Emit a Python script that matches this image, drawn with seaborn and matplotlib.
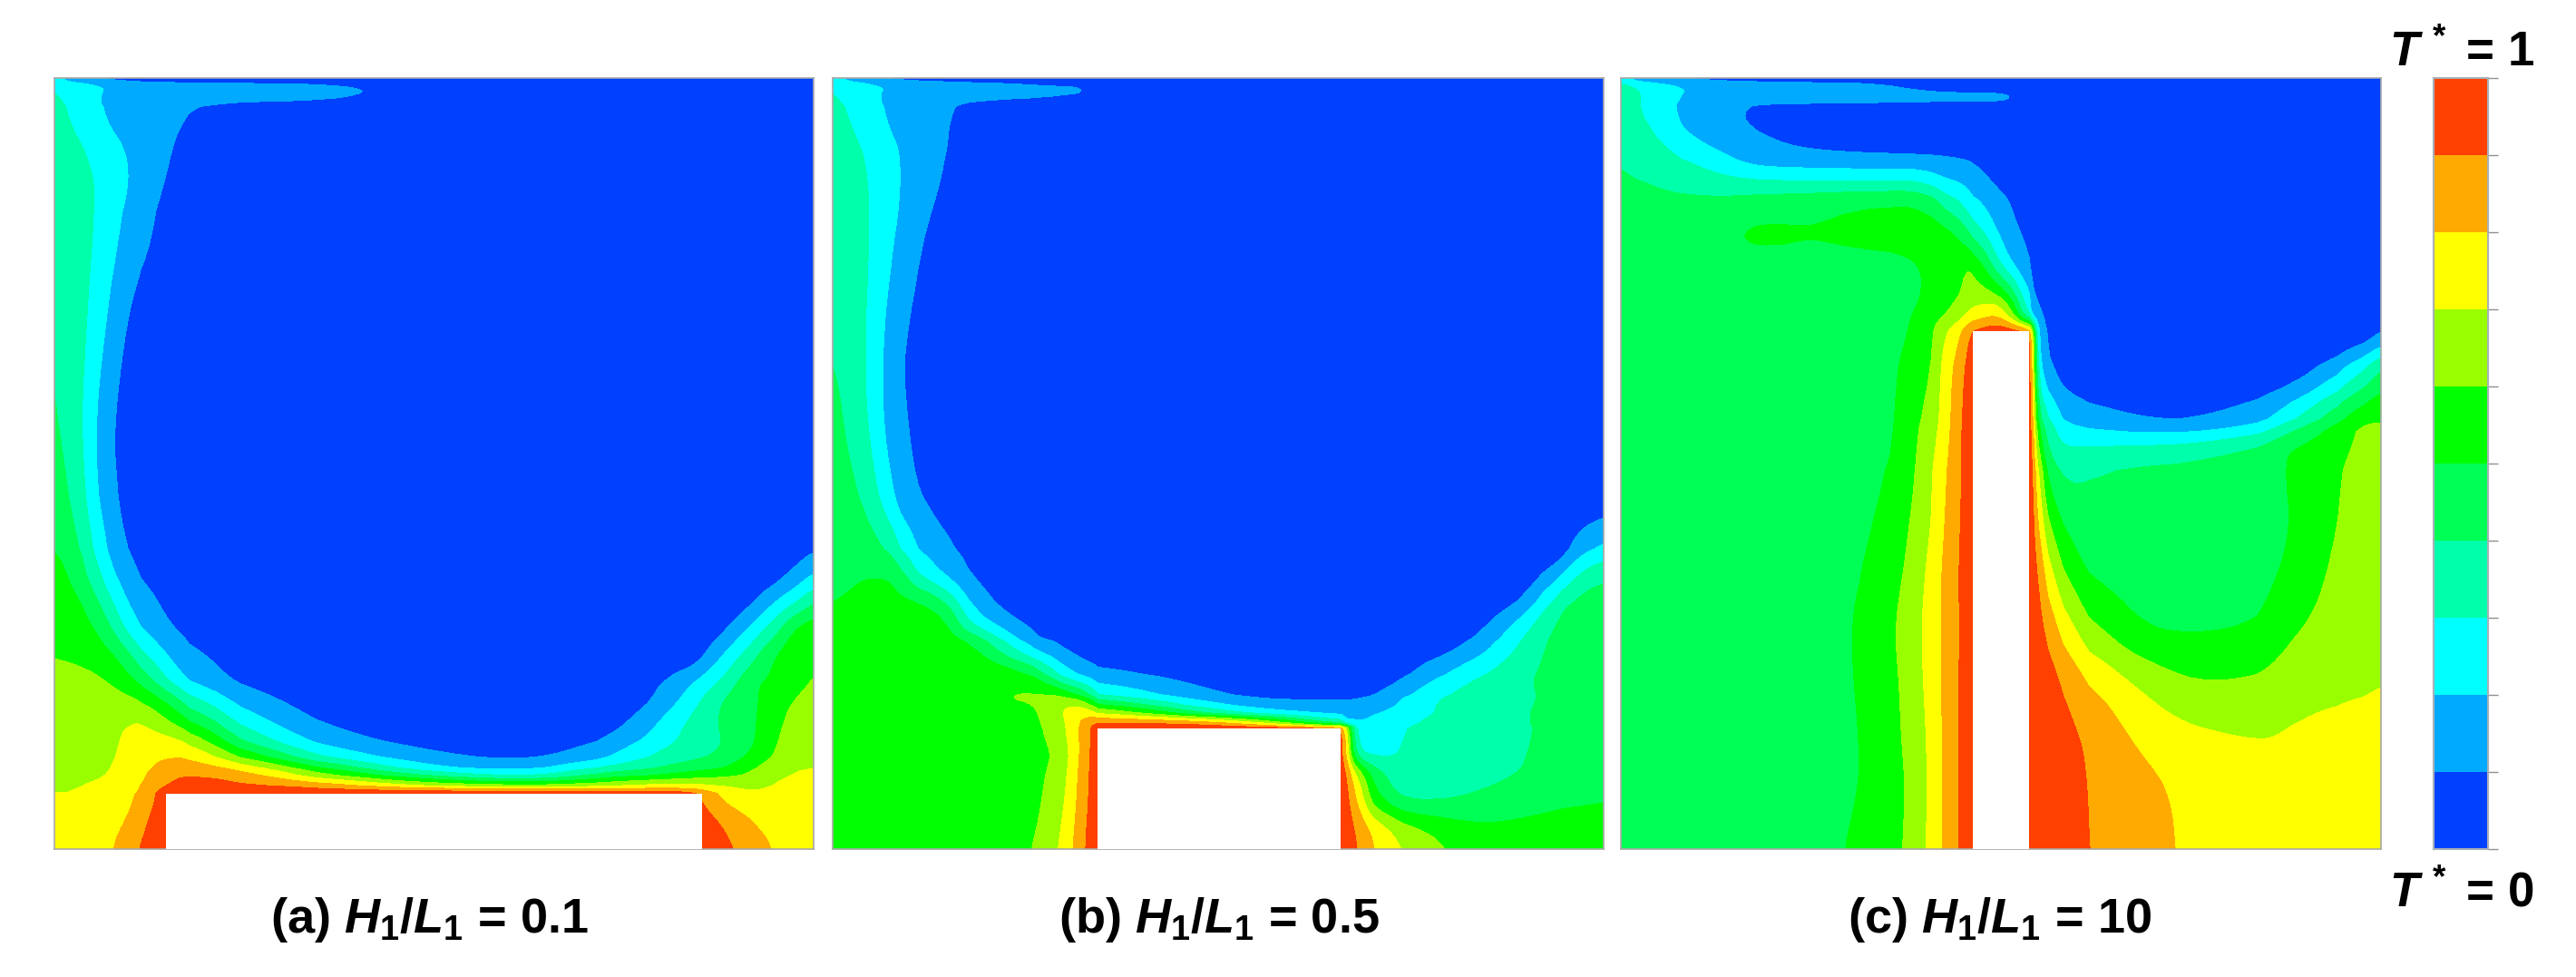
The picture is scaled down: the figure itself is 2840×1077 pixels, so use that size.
# Temperature contours T* for three fin heights

import numpy as np
import seaborn as sns
import matplotlib
matplotlib.use('Agg')
import matplotlib.pyplot as plt
from matplotlib.colors import ListedColormap
from matplotlib.patches import Rectangle

captions = ['(a) ', '(b) ', '(c) ']
ratios = ['0.1', '0.5', '10']
band_colors = ['#0040FF', '#00AAFF', '#00FFFF', '#00FFAA', '#00FF55',
               '#00FF00', '#99FF00', '#FFFF00', '#FFAA00', '#FF4000']
band_values = [9, 8, 7, 6, 5, 4, 3, 2, 1, 0]

# T* x 10 at stations, x and y in the units of the read-off grid
x_a = [35, 60, 90, 115, 145, 175, 205, 255, 300, 400, 550, 750, 950, 1100, 1200, 1280, 1340, 1400, 1450, 1490, 1527]
y_a = [45, 60, 75, 100, 200, 300, 500, 700, 850, 950, 1000, 1050, 1100, 1150, 1200, 1240, 1280, 1320, 1350, 1370, 1385, 1395, 1405, 1412, 1420, 1470, 1527]
fin_a = [255, 1307, 1420]
t_a = [
  [2.5,1.5,1.2,1,.8,.7,.6,.5,.5,.4,.3,.2,.2,.2,.2,.2,.2,.2,.2,.2,.2],
  [3,2.8,2.5,2.2,1.8,1.7,1.6,1.5,1.5,1.4,1.3,.3,.1,.1,.1,.1,.1,.1,.1,.1,.1],
  [3,2.8,2.4,2.1,1.8,1.7,1.6,1.5,1.5,1.5,1.5,.3,.1,.1,.1,.1,.1,.1,.1,.1,.1],
  [3.3,2.9,2.5,2.1,1.7,1.5,1.4,1.2,1,.6,.3,.1,.1,.1,.1,.1,.1,.1,.1,.1,.1],
  [3.8,3.5,3.2,2.9,2.5,2.1,1.7,1,.6,.2,.1,.1,.1,.1,.1,.1,.1,.1,.1,.1,.1],
  [3.9,3.6,3.3,3,2.4,1.9,1.4,.6,.3,.1,.1,.1,.1,.1,.1,.1,.1,.1,.1,.1,.1],
  [3.9,3.5,3.2,2.5,1.7,.9,.5,.2,.1,.1,.1,.1,.1,.1,.1,.1,.1,.1,.1,.1,.1],
  [4.1,3.5,2.9,1.9,1,.5,.3,.1,.1,.1,.1,.1,.1,.1,.1,.1,.1,.1,.1,.1,.1],
  [4.8,4.1,3.2,2.1,1.3,.6,.3,.1,.1,.1,.1,.1,.1,.1,.1,.1,.1,.1,.1,.1,.1],
  [4.95,4.5,3.9,2.8,1.7,1.05,.6,.2,.1,.1,.1,.1,.1,.1,.1,.1,.1,.1,.2,.5,.95],
  [5.6,5,4.2,3.4,2.2,1.5,.9,.4,.2,.1,.1,.1,.1,.1,.1,.1,.1,.2,.6,1.4,2.2],
  [5.8,5.4,4.95,4.2,3.1,2,1.45,.7,.4,.1,.1,.1,.1,.1,.1,.1,.1,.8,2.1,3,4.1],
  [5.9,5.6,5.3,5,4,2.8,1.9,1.1,.7,.2,.1,.1,.1,.1,.1,.2,.6,2.2,3.7,5.3,5.7],
  [5.9,5.85,5.7,5.5,5.15,4.3,3.2,1.85,1.15,.4,.1,.1,.1,.1,.1,.1,1.9,3.6,5.2,5.6,5.8],
  [6.4,6.4,6.3,6.2,5.9,5.4,4.7,2.9,1.8,.7,.2,.1,.1,.2,.6,1.9,3,4.9,5.2,5.6,6.1],
  [6.45,6.5,6.5,6.5,6.4,6.3,6,4.85,3.4,1.5,.4,.1,.1,.1,.9,2.5,4.1,4.8,5.5,6.1,6.5],
  [6.5,6.6,6.7,6.7,6.8,6.95,7.1,6.1,5.1,2.5,.8,.2,.1,.2,1.7,3.3,4.1,4.8,5.7,6.5,6.8],
  [6.6,6.7,6.7,6.75,6.8,7.2,7.4,7.5,7,4,1.6,.6,.2,1.1,2.4,3.4,3.9,4.8,6,6.6,6.9],
  [6.7,6.75,6.8,6.85,6.9,7.3,7.6,8,8,6,3,1.3,.8,1.8,3.2,3.8,4.2,5.3,6.2,6.8,6.95],
  [6.8,6.8,6.85,6.9,6.98,7.4,7.75,8.5,8.6,7.7,5.1,2.1,1.6,3.2,3.9,4.6,4.9,5.9,6.6,6.95,7],
  [6.85,6.85,6.9,6.95,7.05,7.45,7.85,8.8,9,8.6,6.4,4,2.7,4.6,5,5.6,5.8,6.2,6.8,7.1,7.1],
  [6.9,6.9,6.95,7,7.1,7.5,7.9,8.9,9.3,8.85,7.6,5.4,4.4,5.6,6.2,6.4,6.4,6.4,7,7.15,7.1],
  [6.95,6.95,7,7.1,7.2,7.6,8,9.2,9.5,9.2,8.7,7,6.2,6.9,7.4,7.4,7,6.7,7.1,7.2,7.2],
  [6.97,6.98,7.03,7.15,7.25,7.65,8.05,9.5,9.7,9.5,9.2,8.6,8.3,8.2,8.4,8.3,7.3,6.9,7.2,7.25,7.2],
  [7,7,7.1,7.2,7.3,7.7,8.2,9.8,9.9,9.9,9.8,9.9,9.9,9.9,9.9,9.5,7.7,7.1,7.3,7.3,7.3],
  [7.3,7.3,7.4,7.5,7.7,8,8.8,9.9,9.9,9.9,9.9,9.9,9.9,9.9,9.9,9.9,9,8,7.6,7.4,7.3],
  [7.5,7.5,7.6,7.7,7.9,8.7,9.1,9.9,9.9,9.9,9.9,9.9,9.9,9.9,9.9,9.9,9.4,8.6,7.9,7.5,7.4],
]

x_b = [32, 60, 90, 115, 140, 165, 200, 250, 300, 360, 420, 465, 495, 520, 553, 800, 1030, 1060, 1095, 1150, 1230, 1300, 1380, 1450, 1500, 1547]
y_b = [45, 60, 75, 100, 200, 350, 550, 700, 850, 950, 1000, 1050, 1090, 1130, 1190, 1230, 1250, 1265, 1275, 1285, 1295, 1340, 1380, 1430, 1480, 1527]
fin_b = [553, 1030, 1295]
t_b = [
  [2.5,1.6,1.3,1,.9,.8,.7,.6,.5,.4,.3,.3,.2,.2,.2,.2,.2,.2,.2,.2,.2,.2,.2,.2,.2,.2],
  [3,2.8,2.5,2.2,1.9,1.8,1.7,1.6,1.5,1.4,1.2,1.1,1.1,1,.4,.1,.1,.1,.1,.1,.1,.1,.1,.1,.1,.1],
  [3,2.8,2.4,2.1,1.8,1.7,1.6,1.5,1.5,1.4,1.3,1.2,1.1,1.05,.5,.1,.1,.1,.1,.1,.1,.1,.1,.1,.1,.1],
  [3.2,2.9,2.5,2.2,1.8,1.6,1.4,1.1,.6,.3,.2,.1,.1,.1,.1,.1,.1,.1,.1,.1,.1,.1,.1,.1,.1,.1],
  [3.9,3.5,3.1,2.8,2.4,2.05,1.6,1,.5,.2,.1,.1,.1,.1,.1,.1,.1,.1,.1,.1,.1,.1,.1,.1,.1,.1],
  [3.9,3.6,3.2,2.8,2.2,1.8,1.05,.4,.2,.1,.1,.1,.1,.1,.1,.1,.1,.1,.1,.1,.1,.1,.1,.1,.1,.1],
  [3.9,3.5,3.1,2.4,1.6,1,.5,.2,.1,.1,.1,.1,.1,.1,.1,.1,.1,.1,.1,.1,.1,.1,.1,.1,.1,.1],
  [4.4,3.8,3.2,2.5,1.6,1.2,.6,.3,.1,.1,.1,.1,.1,.1,.1,.1,.1,.1,.1,.1,.1,.1,.1,.1,.1,.1],
  [4.7,4.4,3.9,3.2,2.4,1.5,1.05,.5,.2,.1,.1,.1,.1,.1,.1,.1,.1,.1,.1,.1,.1,.1,.1,.1,.1,.3],
  [4.75,4.75,4.7,4.4,4,3.1,1.95,1.3,.7,.3,.1,.1,.1,.1,.1,.1,.1,.1,.1,.1,.1,.1,.1,.2,1.8,2.55],
  [4.8,4.85,4.95,5,5,4.4,3,1.9,.95,.4,.1,.1,.1,.1,.1,.1,.1,.1,.1,.1,.1,.1,.1,1.8,3.4,3.9],
  [5,5.1,5.3,5.35,5.35,5.3,5.2,4.2,1.8,.7,.3,.1,.1,.1,.1,.1,.1,.1,.1,.1,.1,.2,1,3.6,4.4,4.6],
  [5.2,5.4,5.5,5.5,5.5,5.5,5.45,5.3,2.8,1.5,.7,.4,.2,.1,.1,.1,.1,.1,.1,.1,.1,.6,2.4,4.2,4.5,4.65],
  [5.4,5.5,5.6,5.6,5.6,5.6,5.6,5.5,5.3,3.3,1.3,.9,.6,.4,.2,.1,.1,.1,.1,.2,.4,1.4,3.2,4.4,4.6,4.7],
  [5.6,5.6,5.6,5.7,5.7,5.7,5.75,5.8,5.85,6,5.4,3.3,2.3,1.8,1.3,.3,.1,.1,.2,.8,2.2,3.1,3.9,4.3,4.5,4.6],
  [5.7,5.7,5.7,5.7,5.7,5.75,5.8,5.85,5.9,5.95,6.2,6.4,5.7,5.1,3,.7,.8,.9,1.05,1.95,3.1,3.45,3.8,4.25,4.5,4.6],
  [5.7,5.7,5.7,5.7,5.7,5.75,5.8,5.85,5.9,5.9,5.9,6.6,7,7,5.4,1.6,1.2,1.2,1.5,2.2,3.3,3.5,3.85,4.3,4.5,4.55],
  [5.7,5.7,5.7,5.7,5.7,5.75,5.8,5.85,5.85,5.85,5.8,6.5,7.4,7.6,7.3,3,1.6,1.6,1.95,2.5,3.2,3.6,3.9,4.3,4.5,4.6],
  [5.7,5.7,5.7,5.7,5.7,5.75,5.8,5.85,5.85,5.85,5.8,6.4,7.3,8,8.3,6.3,1.9,1.9,2.1,2.7,3.3,3.6,3.9,4.3,4.5,4.6],
  [5.7,5.7,5.7,5.7,5.7,5.75,5.8,5.85,5.85,5.85,5.8,6.3,7.3,8.1,9.3,8.7,3.3,2.05,2.2,2.8,3.4,3.6,3.9,4.3,4.5,4.6],
  [5.7,5.7,5.7,5.7,5.7,5.75,5.8,5.85,5.85,5.8,5.75,6.3,7.25,8.2,9.9,9.9,9.9,2.2,2.3,3,3.5,3.6,3.85,4.3,4.5,4.6],
  [5.7,5.7,5.7,5.7,5.7,5.7,5.7,5.7,5.7,5.7,5.7,6,7,8.2,9.9,9.9,9.9,3,2.6,3.1,3.5,3.7,3.9,4.4,4.6,4.7],
  [5.7,5.7,5.7,5.7,5.7,5.7,5.7,5.7,5.7,5.7,5.7,6.2,7.15,8.4,9.9,9.9,9.9,7,4.5,2.95,3.6,3.7,4,4.5,4.65,4.75],
  [5.7,5.7,5.7,5.7,5.7,5.7,5.7,5.7,5.7,5.7,5.7,6.4,7.3,8.5,9.9,9.9,9.9,8,5.3,3.9,3.9,4.2,4.6,4.85,4.9,4.95],
  [5.7,5.7,5.7,5.7,5.7,5.7,5.7,5.7,5.7,5.7,5.8,6.6,7.5,8.7,9.9,9.9,9.9,8.8,7.6,6.3,5.5,5.15,5.2,5.3,5.35,5.4],
  [5.7,5.7,5.7,5.7,5.7,5.7,5.7,5.7,5.7,5.7,5.95,6.8,7.7,8.8,9.9,9.9,9.9,9.05,8,7,6,5.6,5.6,5.7,5.7,5.7],
]

x_c = [31, 60, 100, 150, 230, 300, 400, 500, 560, 600, 640, 665, 695, 723, 778, 833, 850, 870, 900, 950, 1050, 1150, 1280, 1350, 1440, 1490, 1524]
y_c = [45, 60, 80, 100, 150, 200, 240, 280, 340, 400, 460, 500, 532, 600, 700, 750, 800, 900, 1000, 1100, 1200, 1300, 1400, 1527]
fin_c = [723, 833, 532]
t_c = [
  [2.5,1.5,1.2,.9,.7,.6,.5,.4,.3,.3,.3,.2,.2,.2,.2,.2,.2,.2,.2,.2,.2,.2,.2,.2,.2,.2,.2],
  [3.3,3,2.5,2,1.7,1.6,1.5,1.4,1.05,.8,.5,.3,.2,.1,.1,.1,.1,.1,.1,.1,.1,.1,.1,.1,.1,.1,.1],
  [3.5,3.1,2.6,1.9,1.6,1.6,1.6,1.6,1.6,1.6,1.6,1.6,1.6,1.7,1.5,.6,.2,.1,.1,.1,.1,.1,.1,.1,.1,.1,.1],
  [3.6,3.1,2.3,1.8,1.2,.7,.6,.5,.4,.3,.2,.1,.1,.1,.1,.1,.1,.1,.1,.1,.1,.1,.1,.1,.1,.1,.1],
  [3.8,3.5,2.95,2,1.3,1,.5,.3,.2,.1,.1,.1,.1,.1,.1,.1,.1,.1,.1,.1,.1,.1,.1,.1,.1,.1,.1],
  [3.95,3.7,3.5,3.1,2.2,1.5,1.4,1.3,1.3,1.3,1.25,1.2,1.1,.95,.1,.1,.1,.1,.1,.1,.1,.1,.1,.1,.1,.1,.1],
  [4.1,4.05,3.95,3.7,3.3,3.1,3,3,3,3,2.5,2.1,1.9,1.5,.6,.1,.1,.1,.1,.1,.1,.1,.1,.1,.1,.1,.1],
  [4.15,4.15,4.15,4.2,4.25,4.5,4.7,5,5.05,5.05,4.5,3.6,2.9,2.1,1.2,.3,.1,.1,.1,.1,.1,.1,.1,.1,.1,.1,.1],
  [4.3,4.3,4.3,4.4,5,5.3,5.1,5.3,5.4,5.5,5.6,5.5,4.85,3.6,1.5,.7,.3,.1,.1,.1,.1,.1,.1,.1,.1,.1,.1],
  [4.4,4.4,4.4,4.45,4.5,4.6,4.6,4.65,4.7,4.85,5.2,5.5,5.85,6.1,2.4,.8,.4,.2,.1,.1,.1,.1,.1,.1,.1,.1,.1],
  [4.5,4.5,4.5,4.5,4.55,4.6,4.6,4.6,4.7,4.75,5.3,5.6,5.95,6.6,6.2,1.4,.8,.3,.1,.1,.1,.1,.1,.1,.1,.1,.1],
  [4.5,4.5,4.5,4.55,4.6,4.65,4.7,4.75,4.85,4.95,5.7,5.95,6.7,7.5,8.3,1.9,1.3,.7,.2,.1,.1,.1,.1,.1,.1,.1,.1],
  [4.5,4.5,4.5,4.55,4.6,4.65,4.7,4.75,4.85,5,5.9,6.9,7.95,9.5,9.9,9.9,1.5,.9,.3,.1,.1,.1,.1,.1,.1,.2,.9],
  [4.55,4.55,4.55,4.55,4.6,4.65,4.7,4.75,4.85,5.3,6.05,7.4,8.6,9.9,9.9,9.9,2.3,1,.4,.1,.1,.1,.1,.1,1.7,3.1,4.3],
  [4.55,4.55,4.55,4.55,4.6,4.6,4.7,4.75,4.85,5.7,6.5,7.45,8.9,9.9,9.9,9.9,4.6,3.3,2,1.5,1,.9,1.75,3.3,5.5,6.2,6.15],
  [4.55,4.55,4.55,4.55,4.55,4.6,4.6,4.65,4.95,5.75,6.75,7.65,8.9,9.9,9.9,9.9,5.8,3.8,3,3.1,3.2,3.4,4.2,5.2,5.75,6.3,6.3],
  [4.55,4.55,4.55,4.55,4.55,4.6,4.6,4.65,5.1,5.8,7,7.85,8.9,9.9,9.9,9.9,7,4.6,3.8,4.05,4.3,4.4,4.85,5.05,6,6.5,6.5],
  [4.55,4.55,4.55,4.55,4.55,4.6,4.6,4.8,5.4,6.1,7.1,8,9,9.9,9.9,9.9,8,6.1,4.9,4.1,4.4,4.45,4.6,5,6.2,6.5,6.5],
  [4.55,4.55,4.55,4.55,4.55,4.6,4.65,5,5.7,6.3,7.45,8.2,9.1,9.9,9.9,9.9,9,7.5,6.1,4.9,4.5,4.5,4.7,5.3,6.4,6.5,6.5],
  [4.55,4.55,4.55,4.55,4.55,4.6,4.65,5.1,5.9,6.6,7.5,8.2,9,9.9,9.9,9.9,9.4,8.7,7.6,6.2,4.9,4.85,5.05,5.95,6.6,6.7,6.7],
  [4.55,4.55,4.55,4.55,4.55,4.6,4.7,5.05,5.75,6.45,7.45,8.2,9.1,9.9,9.9,9.9,9.8,9.5,8.9,8,6.8,6,6.2,6.7,6.8,6.85,6.95],
  [4.55,4.55,4.55,4.55,4.55,4.6,4.7,5,5.7,6.35,7.3,8.15,9.1,9.9,9.9,9.9,9.8,9.7,9.3,8.8,7.7,7.2,6.95,7.1,7.3,7.4,7.45],
  [4.55,4.55,4.55,4.55,4.55,4.6,4.7,5,5.6,6.2,7.3,8.15,9.1,9.9,9.9,9.9,9.9,9.8,9.6,8.9,8.3,7.7,7.4,7.5,7.5,7.55,7.6],
  [4.55,4.55,4.55,4.55,4.55,4.6,4.7,5.2,5.7,6.3,7.35,8.1,9.1,9.9,9.9,9.9,9.9,9.9,9.7,8.95,8.35,7.8,7.6,7.6,7.6,7.6,7.6],
]

W, H = 2840, 1077


def place(fig, x0, x1, y0, y1):
  return fig.add_axes([x0 / W, 1 - y1 / H, (x1 - x0) / W, (y1 - y0) / H])


def refine(x, y, t, n=6):
  # finer drawing grid in station index space, so the contour edges come out round
  t = np.array(t, dtype=float)
  ix = np.linspace(0, len(x) - 1, (len(x) - 1) * n + 1)
  iy = np.linspace(0, len(y) - 1, (len(y) - 1) * n + 1)
  fx = np.interp(ix, np.arange(len(x)), x)
  fy = np.interp(iy, np.arange(len(y)), y)
  t = np.array([np.interp(ix, np.arange(len(x)), r) for r in t])
  t = np.array([np.interp(iy, np.arange(len(y)), c) for c in t.T]).T
  k = np.ones(n) / n
  t = np.apply_along_axis(lambda r: np.convolve(np.pad(r, n, mode='edge'), k, mode='same')[n:-n], 1, t)
  t = np.apply_along_axis(lambda c: np.convolve(np.pad(c, n, mode='edge'), k, mode='same')[n:-n], 0, t)
  return fx, fy, t


sns.set_theme(style='white')
plt.rcParams['font.family'] = ['Liberation Sans', 'DejaVu Sans']
plt.rcParams['mathtext.fontset'] = 'custom'
plt.rcParams['mathtext.rm'] = 'Liberation Sans:bold'
plt.rcParams['mathtext.bf'] = 'Liberation Sans:bold'
plt.rcParams['mathtext.it'] = 'Liberation Sans:italic:bold'
plt.rcParams['mathtext.bfit'] = 'Liberation Sans:italic:bold'

fig = plt.figure(figsize=(W / 100, H / 100), dpi=100, facecolor='white')
boxes = [(60, 897), (918, 1768), (1787, 2625)]
caption_mid = [473, 1344, 2204]
fields = [(x_a, y_a, t_a, fin_a), (x_b, y_b, t_b, fin_b), (x_c, y_c, t_c, fin_c)]

for i, (xs, ys, ts, fin) in enumerate(fields):
  ax = place(fig, boxes[i][0], boxes[i][1], 86, 936)
  fx, fy, ft = refine(xs, ys, ts)
  ax.contourf(fx, fy, ft, levels=np.arange(0, 11), colors=band_colors)
  ax.add_patch(Rectangle((fin[0], fin[2]), fin[1] - fin[0], ys[-1] - fin[2], fc='white', ec='none', zorder=3))
  ax.set_xlim(xs[0], xs[-1])
  ax.set_ylim(ys[-1], ys[0])
  ax.set_xticks([])
  ax.set_yticks([])
  for s in ax.spines.values():
    s.set_color('#a8a8a8')
    s.set_linewidth(1.2)
  fig.text(caption_mid[i] / W, 1 - 1028 / H,
           r'%s$\mathit{H}_{\mathrm{1}}/\mathit{L}_{\mathrm{1}}$ = %s' % (captions[i], ratios[i]),
           ha='center', va='baseline', fontsize=39, fontweight='bold', color='black')

# legend bar
cax = place(fig, 2683, 2743, 86, 936)
sns.heatmap(np.array(band_values).reshape(-1, 1), ax=cax, cmap=ListedColormap(band_colors), vmin=-0.5, vmax=9.5,
            cbar=False, xticklabels=False, yticklabels=False, linewidths=0)
cax.yaxis.tick_right()
cax.set_yticks(np.arange(len(band_values) + 1))
cax.set_yticklabels([])
cax.tick_params(axis='y', length=8, width=1, color='#909090', right=True, left=False)
for s in cax.spines.values():
  s.set_visible(True)
  s.set_color('#a8b0b8')
  s.set_linewidth(1.5)

fig.text(2714 / W, 1 - 73 / H, r'$\mathit{T}^{\,*}$ = 1', ha='center', va='baseline', fontsize=38, fontweight='bold', color='black')
fig.text(2714 / W, 1 - 999 / H, r'$\mathit{T}^{\,*}$ = 0', ha='center', va='baseline', fontsize=38, fontweight='bold', color='black')

fig.savefig('out.png', dpi=100, facecolor='white')
